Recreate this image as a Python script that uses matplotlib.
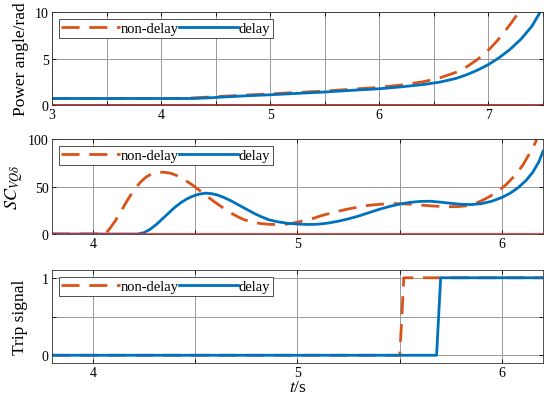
import matplotlib
matplotlib.use("Agg")
import matplotlib.pyplot as plt
import numpy as np

plt.rcParams['font.family'] = ['Liberation Serif', 'DejaVu Serif']
plt.rcParams['mathtext.fontset'] = 'stix'

orange = '#D95319'
blue = '#0072BD'

# power angle
t1_nd = [3.0, 4.0, 4.2, 4.35, 4.5, 4.75, 5.0, 5.25, 5.5, 5.75, 6.0, 6.2, 6.4, 6.55,
         6.7, 6.8, 6.9, 7.0, 7.08, 7.15, 7.22, 7.28]
d1_nd = [0.7, 0.7, 0.72, 0.8, 0.9, 1.05, 1.2, 1.35, 1.5, 1.7, 1.9, 2.15, 2.5, 2.9,
         3.5, 4.1, 4.9, 5.9, 6.9, 7.9, 9.0, 10.0]
t1_d = [3.0, 4.3, 4.45, 4.6, 4.8, 5.0, 5.25, 5.5, 5.75, 6.0, 6.2, 6.4, 6.55, 6.7,
        6.8, 6.9, 7.0, 7.1, 7.2, 7.3, 7.4, 7.47]
d1_d = [0.7, 0.7, 0.78, 0.88, 1.0, 1.1, 1.25, 1.4, 1.58, 1.75, 1.95, 2.2, 2.45, 2.85,
        3.25, 3.75, 4.35, 5.1, 6.0, 7.1, 8.5, 9.9]

# SC index
t2_nd = [3.8, 4.06, 4.08, 4.11, 4.14, 4.17, 4.20, 4.23, 4.26, 4.29, 4.32, 4.35, 4.38,
         4.41, 4.44, 4.47, 4.50, 4.53, 4.56, 4.59, 4.62, 4.65, 4.68, 4.71, 4.74, 4.78,
         4.82, 4.86, 4.90, 4.94, 4.98, 5.02, 5.07, 5.12, 5.18, 5.24, 5.30, 5.36, 5.42,
         5.48, 5.54, 5.60, 5.66, 5.72, 5.78, 5.82, 5.86, 5.90, 5.94, 5.98, 6.02, 6.06,
         6.10, 6.13, 6.16, 6.17]
sc_nd = [0, 0, 5, 14, 25, 36, 46, 54, 60, 63.5, 65, 65, 64,
         61.5, 58, 54, 49.5, 44.5, 39.5, 34.5, 30, 25.5, 21.5, 18, 15, 12.5,
         11, 10.2, 10, 10.3, 11.5, 13.5, 16, 19.5, 23, 26, 28.5, 30.5, 31.5,
         32, 31.5, 30.5, 29.5, 28.8, 28.8, 29.5, 31.5, 35, 39.5, 45, 52, 61,
         72, 83, 95, 100]
t2_d = [3.8, 4.22, 4.25, 4.28, 4.31, 4.34, 4.37, 4.40, 4.43, 4.46, 4.49, 4.52, 4.55,
        4.58, 4.61, 4.64, 4.67, 4.70, 4.73, 4.76, 4.79, 4.82, 4.86, 4.90, 4.95, 5.00,
        5.05, 5.10, 5.15, 5.20, 5.25, 5.30, 5.35, 5.40, 5.45, 5.50, 5.55, 5.60, 5.65,
        5.70, 5.75, 5.80, 5.85, 5.90, 5.95, 6.00, 6.04, 6.08, 6.12, 6.15, 6.18, 6.2]
sc_d = [0, 0, 1.5, 5, 10, 16, 22, 28, 33, 37, 40, 42, 43,
        42.5, 41, 38.5, 35.5, 32, 28.5, 25, 21.5, 18.5, 15, 13, 11.3, 10.5,
        10, 10.3, 11.5, 13.5, 16, 19, 22.5, 26, 29, 31.5, 33.3, 34.3, 34.5,
        33.5, 32.3, 31.3, 31, 32, 34.5, 38.5, 43, 49, 57, 65, 76, 87]

# trip signal
t3_nd = [3.8, 5.5, 5.52, 6.2]
trip_nd = [0, 0, 1, 1]
t3_d = [3.8, 5.68, 5.70, 6.2]
trip_d = [0, 0, 1, 1]

fig = plt.figure(figsize=(5.5, 4.02), dpi=100)
ax1 = fig.add_axes([0.0945, 0.7363, 0.8927, 0.2313])
ax2 = fig.add_axes([0.0945, 0.4154, 0.8927, 0.2363])
ax3 = fig.add_axes([0.0945, 0.0945, 0.8927, 0.2313])

def style(ax):
    ax.grid(True, color='#9a9a9a', lw=0.7)
    ax.set_axisbelow(True)
    ax.tick_params(direction='in', length=3, width=0.6, top=True, right=True,
                   labelsize=10, pad=2.5)
    for s in ax.spines.values():
        s.set_linewidth(0.6)
        s.set_color('#333333')

def draw(ax, xa, ya, xb, yb):
    ax.plot(xa, ya, color=orange, lw=2, dashes=(6.5, 3.5), label='non-delay')
    ax.plot(xb, yb, color=blue, lw=2, label='delay')
    leg = ax.legend(loc='upper left', ncol=2, fontsize=10.5, frameon=True, fancybox=False,
                    edgecolor='#333333', framealpha=1, borderpad=0.2, handlelength=4.0,
                    handletextpad=0.05, columnspacing=0.05, borderaxespad=0.45)
    leg.get_frame().set_linewidth(0.6)

draw(ax1, t1_nd, d1_nd, t1_d, d1_d)
ax1.axhline(0, color='#e00000', lw=1.2, zorder=3)
ax1.set_xlim(3, 7.47)
ax1.set_ylim(0, 10)
ax1.set_xticks(np.arange(3, 7.51, 0.5))
ax1.set_xticklabels(['3', '', '4', '', '5', '', '6', '', '7', ''])
ax1.set_yticks([0, 5, 10])
ax1.set_ylabel('Power angle/rad', fontsize=12.5, labelpad=4)
style(ax1)

draw(ax2, t2_nd, sc_nd, t2_d, sc_d)
ax2.axhline(0, color='#ff2020', lw=1.2, zorder=3)
ax2.set_xlim(3.8, 6.2)
ax2.set_ylim(0, 100)
ax2.set_xticks([4, 4.5, 5, 5.5, 6])
ax2.set_xticklabels(['4', '', '5', '', '6'])
ax2.set_yticks([0, 50, 100])
ax2.set_ylabel(r'$SC_{VQ\delta}$', fontsize=13, labelpad=2)
style(ax2)

draw(ax3, t3_nd, trip_nd, t3_d, trip_d)
ax3.set_xlim(3.8, 6.2)
ax3.set_ylim(-0.1, 1.1)
ax3.set_xticks([4, 4.5, 5, 5.5, 6])
ax3.set_xticklabels(['4', '', '5', '', '6'])
ax3.set_yticks([0, 0.5, 1])
ax3.set_yticklabels(['0', '', '1'])
ax3.set_ylabel('Trip signal', fontsize=12.5, labelpad=10)
ax3.set_xlabel(r'$t$/s', fontsize=12.5, labelpad=0)
style(ax3)

fig.savefig('out.png', dpi=100)
